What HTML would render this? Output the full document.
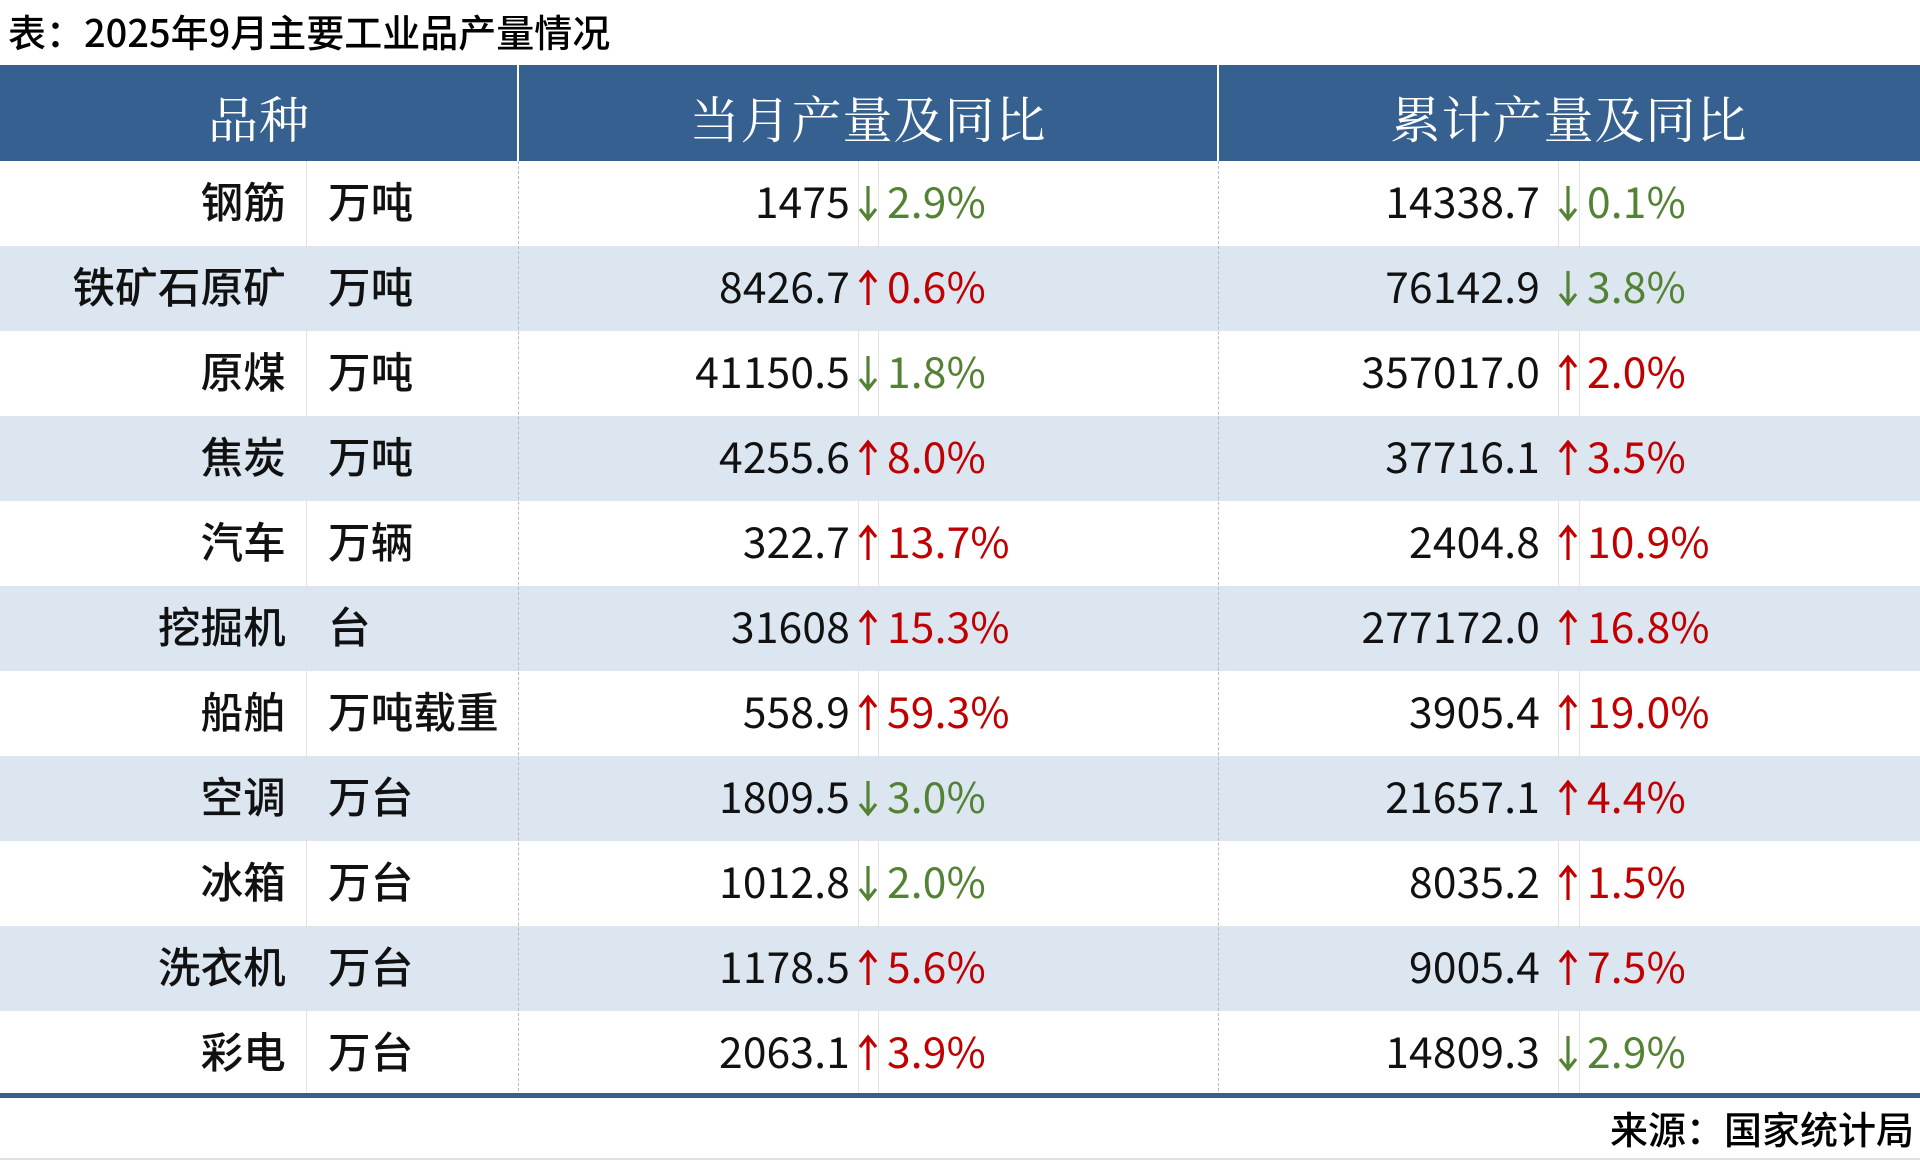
<!DOCTYPE html>
<html><head><meta charset="utf-8"><style>
body{margin:0;width:1920px;height:1161px;background:#fff;position:relative;overflow:hidden;font-family:"Liberation Sans","Noto Sans CJK SC",sans-serif}
.a{position:absolute;white-space:nowrap}
.t{left:8px;top:5px;font-size:38px;font-family:"Noto Sans CJK SC",sans-serif;font-weight:500;line-height:52px;color:#000}
.hd{left:0;top:65px;width:1920px;height:96px;background:#36608f}
.hs{top:65px;width:2px;height:96px;background:#fff}
.ht{top:67px;height:96px;line-height:100px;color:#fff;font-size:50px;font-family:"Noto Serif CJK SC",serif;text-align:center;letter-spacing:1px}
.row{left:0;width:1920px;height:85px}
.st{background:#dce6f1}
.c{font-family:"Noto Sans CJK SC",sans-serif;font-size:42.5px;height:85px;line-height:80px;color:#111;letter-spacing:0.2px}
.r{text-align:right}
.vl{width:0;border-left:1px dashed #bbb;top:161px;height:935px}
.sl{width:1px;background:#e2e2e2}
</style></head><body>
<div class="a t">表：2025年9月主要工业品产量情况</div>
<div class="a hd"></div>
<div class="a hs" style="left:517px"></div>
<div class="a hs" style="left:1217px"></div>
<div class="a ht" style="left:0;width:518px">品种</div>
<div class="a ht" style="left:518px;width:700px">当月产量及同比</div>
<div class="a ht" style="left:1218px;width:702px">累计产量及同比</div>
<div id="rows"></div>
<div class="a vl" style="left:518px"></div>
<div class="a vl" style="left:1218px"></div>
<div class="a" style="left:0;top:1093px;width:1920px;height:5px;background:#36608f"></div>
<div class="a" style="right:6px;top:1102px;font-size:38px;line-height:52px;font-family:'Noto Sans CJK SC',sans-serif;font-weight:500">来源：国家统计局</div>
<div class="a" style="left:0;top:1158px;width:1920px;height:2px;background:#e0e0e0"></div>
<script>
var d=[["钢筋","万吨","1475","d","2.9%","14338.7","d","0.1%"],
["铁矿石原矿","万吨","8426.7","u","0.6%","76142.9","d","3.8%"],
["原煤","万吨","41150.5","d","1.8%","357017.0","u","2.0%"],
["焦炭","万吨","4255.6","u","8.0%","37716.1","u","3.5%"],
["汽车","万辆","322.7","u","13.7%","2404.8","u","10.9%"],
["挖掘机","台","31608","u","15.3%","277172.0","u","16.8%"],
["船舶","万吨载重","558.9","u","59.3%","3905.4","u","19.0%"],
["空调","万台","1809.5","d","3.0%","21657.1","u","4.4%"],
["冰箱","万台","1012.8","d","2.0%","8035.2","u","1.5%"],
["洗衣机","万台","1178.5","u","5.6%","9005.4","u","7.5%"],
["彩电","万台","2063.1","u","3.9%","14809.3","d","2.9%"]];
function arr(x,y,up,col){
 var p=up?'M11 3 L11 36 M3 13 L11 3 L19 13':'M11 2 L11 35 M3 25 L11 35 L19 25';
 return '<svg class="a" style="left:'+x+'px;top:'+(y+23)+'px" width="22" height="38"><path d="'+p+'" stroke="'+col+'" stroke-width="3.2" fill="none"/></svg>';
}
var h="";
d.forEach(function(r,i){var y=161+85*i;
h+='<div class="a row'+(i%2?' st':'')+'" style="top:'+y+'px"></div>';
h+='<div class="a sl" style="left:306px;top:'+y+'px;height:85px"></div>';
h+='<div class="a sl" style="left:858px;top:'+y+'px;height:85px"></div><div class="a sl" style="left:878px;top:'+y+'px;height:85px"></div>';
h+='<div class="a sl" style="left:1558px;top:'+y+'px;height:85px"></div><div class="a sl" style="left:1579px;top:'+y+'px;height:85px"></div>';
h+='<div class="a c r" style="right:1634px;top:'+y+'px;font-weight:500">'+r[0]+'</div>';
h+='<div class="a c" style="left:328px;top:'+y+'px;font-weight:500">'+r[1]+'</div>';
h+='<div class="a c r" style="right:1070px;top:'+y+'px">'+r[2]+'</div>';
var c1=r[3]=="u"?"#c00000":"#548235",c2=r[6]=="u"?"#c00000":"#548235";
h+=arr(857,y,r[3]=="u",c1);
h+='<div class="a c" style="color:'+c1+';left:887px;top:'+y+'px">'+r[4]+'</div>';
h+='<div class="a c r" style="right:380px;top:'+y+'px">'+r[5]+'</div>';
h+=arr(1557,y,r[6]=="u",c2);
h+='<div class="a c" style="color:'+c2+';left:1587px;top:'+y+'px">'+r[7]+'</div>';
});
document.getElementById("rows").innerHTML=h;
</script>
</body></html>
